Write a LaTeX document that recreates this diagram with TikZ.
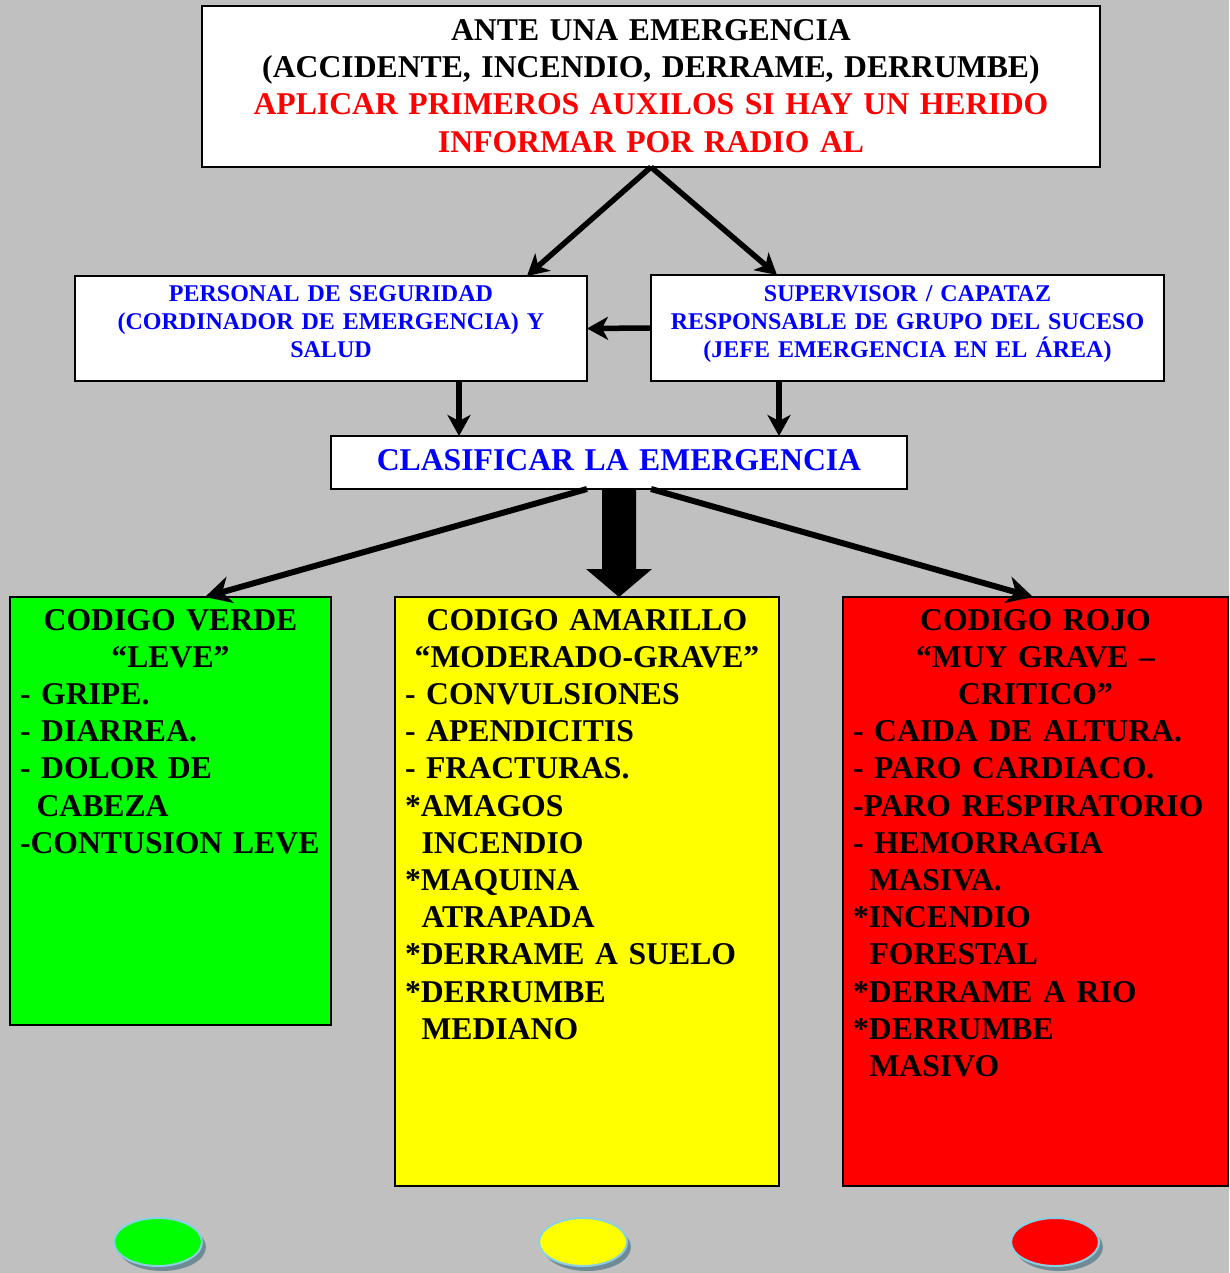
\documentclass[tikz,border=0pt]{standalone}
\usepackage{fontspec}
\setmainfont{Liberation Serif}
\usetikzlibrary{arrows.meta,shapes.geometric}

\definecolor{bgGray}{HTML}{C0C0C0}
\definecolor{txtBlue}{HTML}{0000FF}
\definecolor{txtRed}{HTML}{FF0000}
\definecolor{codeGreen}{HTML}{00FF00}
\definecolor{codeYellow}{HTML}{FFFF00}
\definecolor{codeRed}{HTML}{FF0000}
\definecolor{lampRim}{HTML}{8CCFE2}
\definecolor{lampShade}{HTML}{6F8C96}

\newcommand\fsBig{\fontsize{31.7pt}{37.2pt}\selectfont\bfseries
  \spaceskip=.25em plus .12em minus .04em\relax}
\newcommand\fsMid{\fontsize{24pt}{28pt}\selectfont\bfseries
  \spaceskip=.25em plus .12em minus .04em\relax}
\newcommand\ctr[1]{\hspace*{\fill}#1\hspace*{\fill}\null}
\newcommand\ind{\hspace*{16.5pt}}

\begin{document}
\begin{tikzpicture}[x=1pt,y=-1pt,
  box/.style={draw=black, line width=2pt, fill=white, inner sep=0pt, outer sep=0pt},
  codebox/.style={draw=black, line width=1.6pt, inner sep=0pt, outer sep=0pt},
  txt/.style={inner sep=0pt, outer sep=0pt},
  bigtxt/.style={txt, font=\fsBig},
  midtxt/.style={txt, font=\fsMid, text=txtBlue},
  arrthin/.style={line width=5.5pt, -{Stealth[length=21pt,width=23pt,inset=6pt]}},
  arrdiag/.style={line width=6pt, -{Stealth[length=26pt,width=27pt,inset=8pt]}},
  lamp/.style={ellipse, draw=lampRim, line width=2pt, minimum width=88pt, minimum height=48pt, inner sep=0pt},
  lampshadow/.style={ellipse, fill=lampShade, minimum width=88pt, minimum height=48pt, inner sep=0pt}
]
\useasboundingbox (0,0) rectangle (1229,1273);
\fill[bgGray] (0,0) rectangle (1229,1273);

% boxes
\node[box, minimum width=898pt, minimum height=161pt] (top) at (651,86.5) {};
\node[box, minimum width=512pt, minimum height=105pt] (left) at (331,328.5) {};
\node[box, minimum width=513pt, minimum height=106pt] (right) at (907.5,328) {};
\node[box, minimum width=576pt, minimum height=53pt] (clas) at (619,462.5) {};
\node[codebox, fill=codeGreen, minimum width=321pt, minimum height=428pt] (green) at (170.5,811) {};
\node[codebox, fill=codeYellow, minimum width=384pt, minimum height=589pt] (yellow) at (587,891.5) {};
\node[codebox, fill=codeRed, minimum width=385pt, minimum height=589pt] (red) at (1035.5,891.5) {};

% texts
\node[bigtxt, text width=880pt, align=center, anchor=base] (toptxt) at (651,40.5)
  {ANTE UNA EMERGENCIA\\(ACCIDENTE, INCENDIO, DERRAME, DERRUMBE)\\
   \color{txtRed}APLICAR PRIMEROS AUXILOS SI HAY UN HERIDO\\INFORMAR POR RADIO AL};
\node[midtxt, text width=500pt, align=center, anchor=base] (lefttxt) at (331,301.5)
  {PERSONAL DE SEGURIDAD\\(CORDINADOR DE EMERGENCIA) Y\\SALUD};
\node[midtxt, text width=500pt, align=center, anchor=base] (righttxt) at (907.5,301.5)
  {SUPERVISOR / CAPATAZ\\RESPONSABLE DE GRUPO DEL SUCESO\\(JEFE EMERGENCIA EN EL ÁREA)};
\node[bigtxt, text width=570pt, align=center, anchor=base, text=txtBlue] (clastxt) at (619,470)
  {CLASIFICAR LA EMERGENCIA};

\node[bigtxt, text width=301pt, align=left, anchor=base west] (greentxt) at (20,630)
  {\ctr{CODIGO VERDE}\\\ctr{“LEVE”}\\- GRIPE.\\- DIARREA.\\- DOLOR DE\\\ind CABEZA\\-CONTUSION LEVE};
\node[bigtxt, text width=364pt, align=left, anchor=base west] (yellowtxt) at (405,630)
  {\ctr{CODIGO AMARILLO}\\\ctr{“MODERADO-GRAVE”}\\- CONVULSIONES\\- APENDICITIS\\- FRACTURAS.\\
   {}*AMAGOS\\\ind INCENDIO\\{}*MAQUINA\\\ind ATRAPADA\\{}*DERRAME A SUELO\\{}*DERRUMBE\\\ind MEDIANO};
\node[bigtxt, text width=365pt, align=left, anchor=base west] (redtxt) at (853,630)
  {\ctr{CODIGO ROJO}\\\ctr{“MUY GRAVE –}\\\ctr{CRITICO”}\\- CAIDA DE ALTURA.\\- PARO CARDIACO.\\
   -PARO RESPIRATORIO\\- HEMORRAGIA\\\ind MASIVA.\\{}*INCENDIO\\\ind FORESTAL\\{}*DERRAME A RIO\\{}*DERRUMBE\\\ind MASIVO};

% connectors
\draw[arrthin] (top.south) -- ([xshift=196pt]left.north);
\draw[arrthin] (top.south) -- ([xshift=-130.5pt]right.north);
\draw[arrthin] (right.west) -- (left.east);
\coordinate (ld) at ([xshift=128pt]left.south);
\coordinate (rd) at ([xshift=-128.5pt]right.south);
\draw[arrthin] (ld) -- (ld |- clas.north);
\draw[arrthin] (rd) -- (rd |- clas.north);
\draw[arrdiag] ([xshift=-32pt]clas.south) -- ([xshift=34.5pt]green.north);
\draw[arrdiag] ([xshift=32pt]clas.south) -- ([xshift=-2.5pt]red.north);
% wide block arrow to the yellow box
\coordinate (bt) at (clas.south |- yellow.north);
\fill[black] ([xshift=-17pt]clas.south) -- ([xshift=-17pt,yshift=28pt]bt) -- ([xshift=-33pt,yshift=28pt]bt)
  -- (bt) -- ([xshift=33pt,yshift=28pt]bt) -- ([xshift=17pt,yshift=28pt]bt) -- ([xshift=17pt]clas.south) -- cycle;

% indicator lamps
\node[lampshadow] (gs) at (162,1247) {};
\node[lamp, fill=codeGreen] (gl) at (158,1242) {};
\node[lampshadow] (ys) at (587,1247) {};
\node[lamp, fill=codeYellow] (yl) at (583,1242) {};
\node[lampshadow] (rs) at (1059,1247) {};
\node[lamp, fill=codeRed] (rl) at (1055,1242) {};
\end{tikzpicture}
\end{document}
